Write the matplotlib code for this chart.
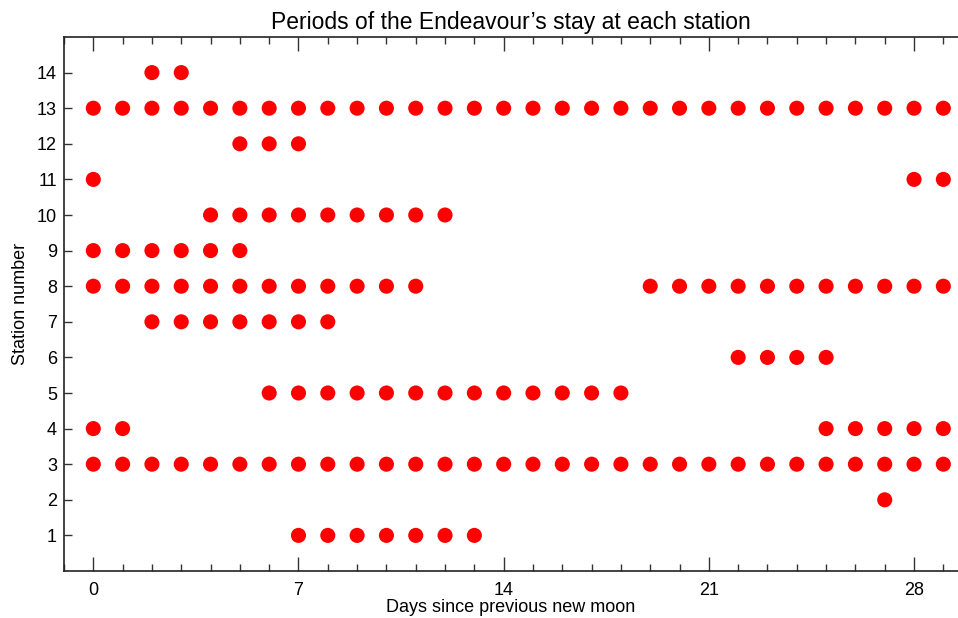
import matplotlib
matplotlib.use("Agg")
import matplotlib.pyplot as plt
from matplotlib.ticker import MultipleLocator

plt.rcParams['font.family'] = ['Liberation Sans', 'DejaVu Sans']

# Days (x) present for each station number (y)
station_days = {
    14: [2, 3],
    13: list(range(0, 30)),
    12: [5, 6, 7],
    11: [0, 28, 29],
    10: [4, 5, 6, 7, 8, 9, 10, 11, 12],
    9: [0, 1, 2, 3, 4, 5],
    8: [0, 1, 2, 3, 4, 5, 6, 7, 8, 9, 10, 11,
        19, 20, 21, 22, 23, 24, 25, 26, 27, 28, 29],
    7: [2, 3, 4, 5, 6, 7, 8],
    6: [22, 23, 24, 25],
    5: [6, 7, 8, 9, 10, 11, 12, 13, 14, 15, 16, 17, 18],
    4: [0, 1, 25, 26, 27, 28, 29],
    3: list(range(0, 30)),
    2: [27],
    1: [7, 8, 9, 10, 11, 12, 13],
}
x_major_ticks = [0, 7, 14, 21, 28]
y_ticks = list(range(1, 15))

title = "Periods of the Endeavour\u2019s stay at each station"
xlabel = "Days since previous new moon"
ylabel = "Station number"

xs, ys = [], []
for st, days in station_days.items():
    for d in days:
        xs.append(d)
        ys.append(st)

fig = plt.figure(figsize=(9.58, 6.18), dpi=100)
ax = fig.add_axes([64 / 958, 1 - 571 / 618, 1 - 64 / 958, (571 - 37) / 618])
ax.scatter(xs, ys, s=118, color='#ff0000', edgecolors='none', zorder=3, clip_on=False)

ax.set_xlim(-1, 29.5)
ax.set_ylim(0, 15)
ax.set_xticks(x_major_ticks)
ax.xaxis.set_minor_locator(MultipleLocator(1))
ax.set_yticks(y_ticks)

ax.tick_params(axis='x', which='major', direction='in', length=10, width=1,
               top=True, bottom=True, labelsize=13, pad=8, color='#333333')
ax.tick_params(axis='x', which='minor', direction='in', length=5, width=1,
               top=True, bottom=True, color='#333333')
ax.tick_params(axis='y', which='major', direction='in', length=6, width=1,
               left=True, right=False, labelsize=13, pad=5, color='#333333')

for side in ['left', 'bottom', 'top']:
    ax.spines[side].set_linewidth(1.2)
    ax.spines[side].set_color('#222222')
ax.spines['right'].set_visible(False)

ax.set_title(title, fontsize=16.5, pad=6)
ax.set_xlabel(xlabel, fontsize=13, labelpad=0)
ax.set_ylabel(ylabel, fontsize=13, labelpad=6)

fig.savefig("out.png", dpi=100)
